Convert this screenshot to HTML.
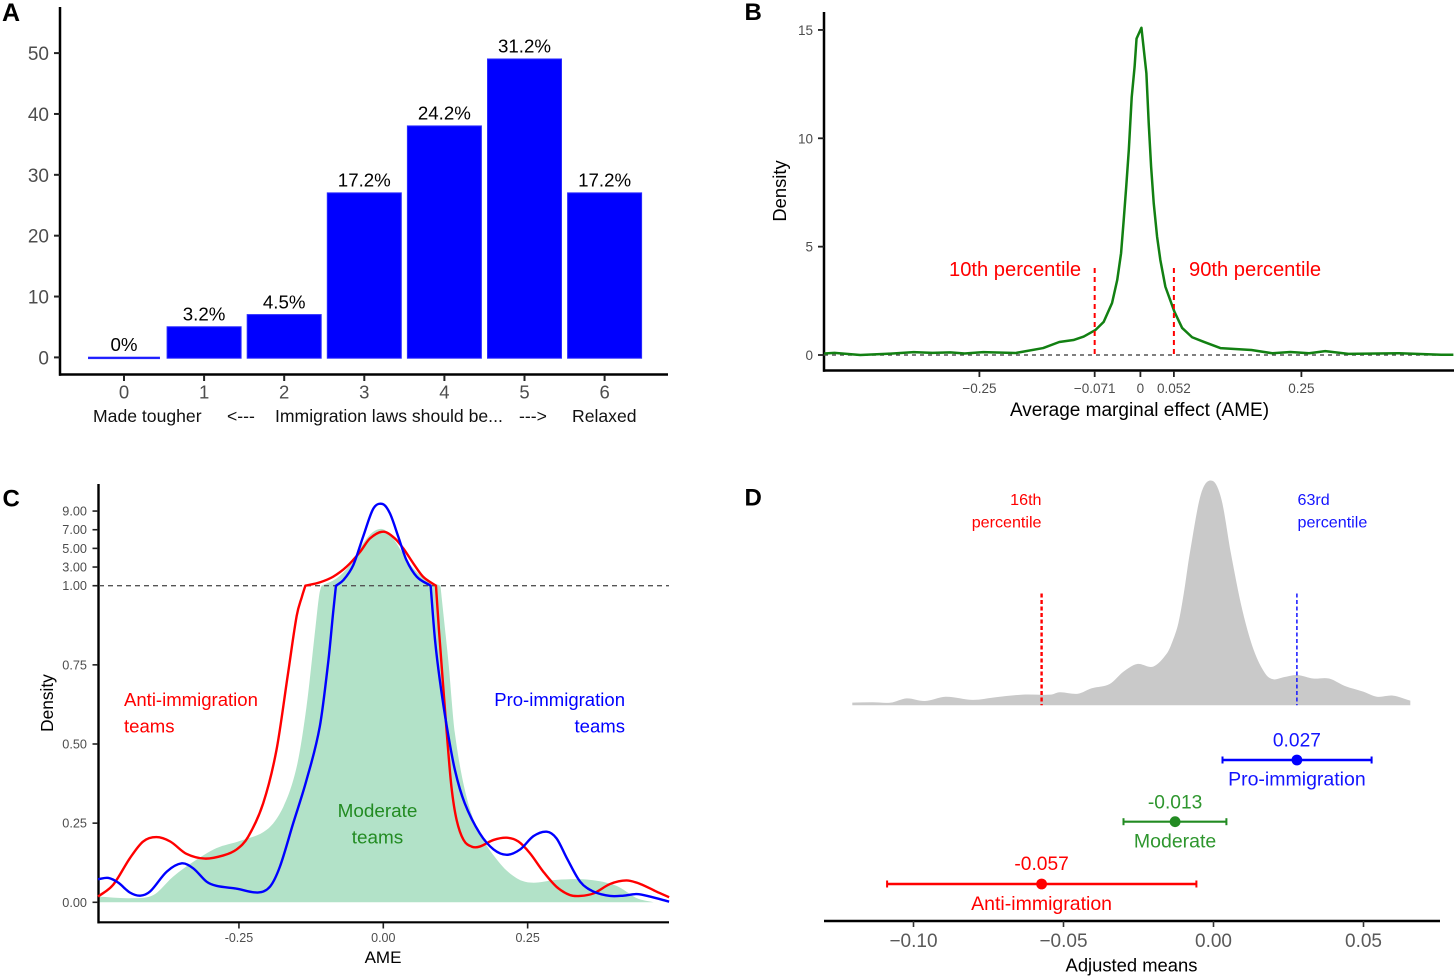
<!DOCTYPE html>
<html lang="en">
<head>
<meta charset="utf-8">
<title>Immigration attitudes and team effects, four-panel figure</title>
<style>
  html, body { margin: 0; padding: 0; background: #fff; }
  svg { display: block; font-family: "Liberation Sans", Arial, sans-serif; }
</style>
</head>
<body>
<svg id="figure" xmlns="http://www.w3.org/2000/svg" width="1456" height="978" viewBox="0 0 1456 978">
  <rect x="0" y="0" width="1456" height="978" fill="#fff"/>

  <g id="panelA">
    <text x="2" y="21" font-size="25" font-weight="bold" fill="#000">A</text>
    <line x1="60" y1="7" x2="60" y2="375.8" stroke="#000" stroke-width="2.5"/>
    <line x1="59" y1="374.5" x2="668" y2="374.5" stroke="#000" stroke-width="2.5"/>
    <g font-size="17.6" fill="#111">
      <text x="93" y="422">Made tougher</text>
      <text x="227" y="422">&lt;---</text>
      <text x="275" y="422">Immigration laws should be...</text>
      <text x="519" y="422">---&gt;</text>
      <text x="572" y="422">Relaxed</text>
    </g>
  </g>

  <g id="panelB">
    <text x="744.5" y="20" font-size="24" font-weight="bold" fill="#000">B</text>
    <line x1="824" y1="12" x2="824" y2="371.8" stroke="#000" stroke-width="2.5"/>
    <line x1="823" y1="370.5" x2="1454" y2="370.5" stroke="#000" stroke-width="2.5"/>
    <text x="1139.5" y="416" font-size="19" fill="#000" text-anchor="middle">Average marginal effect (AME)</text>
    <text transform="translate(786,191) rotate(-90)" font-size="18.4" fill="#000" text-anchor="middle">Density</text>
    <text x="949" y="276" font-size="20.15" fill="#ff0000">10th percentile</text>
    <text x="1189" y="276" font-size="20.15" fill="#ff0000">90th percentile</text>
  </g>

  <g id="panelC">
    <text x="2.5" y="506.5" font-size="24" font-weight="bold" fill="#000">C</text>
  </g>

  <g id="panelD">
    <text x="744.5" y="505.5" font-size="24" font-weight="bold" fill="#000">D</text>
    <line x1="824" y1="921" x2="1440" y2="921" stroke="#000" stroke-width="2.5"/>
    <text x="1131.5" y="971.5" font-size="18.4" fill="#000" text-anchor="middle">Adjusted means</text>
    <text x="1041.5" y="505" font-size="16.1" fill="#ff0000" text-anchor="end">16th</text>
    <text x="1041.5" y="527.5" font-size="16.1" fill="#ff0000" text-anchor="end">percentile</text>
    <text x="1297.5" y="505" font-size="16.1" fill="#1414ff">63rd</text>
    <text x="1297.5" y="527.5" font-size="16.1" fill="#1414ff">percentile</text>
  </g>
</svg>

<script>
// ---------- Panel A data ----------
const aCategories = [0, 1, 2, 3, 4, 5, 6];
const aCounts = [0, 5, 7, 27, 38, 49, 27];
const aPercentLabels = ['0%', '3.2%', '4.5%', '17.2%', '24.2%', '31.2%', '17.2%'];
const aYTicks = [0, 10, 20, 30, 40, 50];

// ---------- Panel B data ----------
const bAme = [-.491,-.475,-.435,-.396,-.352,-.323,-.295,-.273,-.244,-.194,-.151,-.126,-.104,-.088,-.070,-.057,-.044,-.036,-.030,-.026,-.022,-.018,-.0135,-.009,-.006,.0016,.0093,.0129,.0166,.0207,.0259,.031,.0388,.0528,.0648,.0803,.0983,.1242,.1724,.205,.233,.262,.287,.323,.402,.467,.486];
const bDensity = [.07,.1,0,.05,.13,.1,.12,.07,.13,.09,.32,.6,.69,.85,1.15,1.53,2.4,3.46,4.7,6.2,7.77,9.46,11.9,13.3,14.6,15.1,13,10.7,8.7,7,5.46,4.38,3.15,2,1.25,.82,.61,.32,.23,.08,.14,.08,.18,.05,.08,.01,.01];
const bXTicks = [-0.25, -0.071, 0, 0.052, 0.25];
const bXTickLabels = ['\u22120.25', '\u22120.071', '0', '0.052', '0.25'];
const bYTicks = [0, 5, 10, 15];
const bPercentiles = [-0.071, 0.052];

// ---------- Panel C data ----------
const cYTicks = [0, 0.25, 0.5, 0.75, 1, 3, 5, 7, 9];
const cXTicks = [-0.25, 0, 0.25];
const cModerateAme = [-.494,-.433,-.398,-.364,-.329,-.289,-.248,-.202,-.173,-.150,-.133,-.118,-.111,-.107,-.081,-.058,-.035,-.017,0,.017,.032,.052,.075,.099,.103,.113,.124,.144,.167,.202,.231,.257,.300,.358,.404,.439,.468];
const cModerateDensity = [.018,.013,.023,.081,.128,.171,.194,.229,.302,.428,.618,.86,.971,1,1.79,3.21,5.54,6.79,7.04,6.07,4.64,2.86,1.61,1,.93,.755,.534,.334,.218,.123,.076,.062,.071,.071,.052,.013,0];
const cAntiAme = [-.494,-.468,-.439,-.416,-.393,-.369,-.341,-.309,-.277,-.254,-.234,-.208,-.185,-.165,-.150,-.141,-.135,-.110,-.087,-.0635,-.040,-.023,0,.020,.0346,.052,.069,.0912,.0964,.103,.110,.118,.127,.139,.153,.167,.191,.214,.234,.254,.277,.300,.323,.341,.364,.393,.421,.445,.473,.495];
const cAntiDensity = [.018,.055,.139,.192,.206,.192,.153,.138,.148,.167,.207,.313,.481,.723,.905,.965,1,1.36,1.96,3.04,4.64,6.07,6.79,6.07,5,3.39,1.96,1,.86,.70,.533,.365,.26,.197,.176,.176,.197,.204,.192,.155,.097,.049,.023,.02,.028,.058,.069,.058,.034,.016];
const cProAme = [-.494,-.476,-.459,-.439,-.421,-.404,-.375,-.349,-.329,-.306,-.289,-.254,-.216,-.196,-.179,-.156,-.133,-.110,-.095,-.087,-.082,-.069,-.052,-.035,-.017,-.001,.0115,.026,.040,.058,.082,.0895,.098,.110,.124,.141,.167,.191,.214,.237,.260,.283,.300,.318,.341,.364,.393,.416,.439,.462,.495];
const cProDensity = [.073,.077,.062,.031,.021,.034,.097,.123,.107,.065,.052,.043,.031,.05,.113,.25,.386,.555,.765,.913,1,1.61,3.21,6.25,9.29,9.75,8.75,6.25,3.75,1.96,1,.83,.70,.555,.418,.313,.218,.167,.15,.167,.209,.223,.202,.139,.065,.034,.02,.021,.026,.018,.002];

// ---------- Panel D data ----------
const dAme = [-.1204,-.1137,-.1076,-.1023,-.0962,-.0893,-.0802,-.0726,-.0635,-.0543,-.0513,-.0452,-.0406,-.0346,-.03,-.0254,-.0201,-.0155,-.0135,-.0117,-.0099,-.0079,-.0041,-.0003,.0027,.0058,.0096,.0134,.0172,.0199,.0233,.0279,.0332,.0385,.0438,.0499,.0545,.0598,.0656];
const dDensity = [.14,.16,.14,.37,.23,.46,.29,.43,.57,.57,.7,.62,.91,1.14,1.8,2.21,2.07,2.78,3.49,4.4,5.99,8.13,11.34,12,10.98,8.13,5.1,2.96,1.71,1.39,1.5,1.62,1.43,1.43,1.03,.73,.46,.52,.25];
const dXTicks = [-0.10, -0.05, 0, 0.05];
const dXTickLabels = ['\u22120.10', '\u22120.05', '0.00', '0.05'];
const dGroups = ['Pro-immigration', 'Moderate', 'Anti-immigration'];
const dMeans = [0.0278, -0.0128, -0.0573];
const dLower = [0.003, -0.0300, -0.1088];
const dUpper = [0.0527, 0.0043, -0.0057];
const dMeanLabels = ['0.027', '-0.013', '-0.057'];
const dPercentiles = [-0.0573, 0.0278];

// ---------- Axis functions ----------
const xA = c => 124 + 80.1 * c;
const yA = v => 357.4 - 6.086 * v;
const xB = a => 1140.4 + 644 * a;
const yB = d => 355 - 21.67 * d;
const xC = a => 383.3 + 577.4 * a;
const yC = d => d <= 1 ? 902.3 - 316.6 * d : 585.7 - (d - 1) * 9.33;
const xD = a => 1213.5 + 3000 * a;
const yD = d => 705.3 - 18.7 * d;
const rowY = [760, 821.7, 884];
const groupColors = ['#0000ff', '#228b22', '#ff0000'];

// ---------- Helpers ----------
const NS = 'http://www.w3.org/2000/svg';
function mk(parent, tag, props) {
  const el = document.createElementNS(NS, tag);
  for (const k in props) el.setAttribute(k, props[k]);
  parent.appendChild(el);
  return el;
}
function label(parent, x, y, str, size, fill, anchor) {
  const el = mk(parent, 'text', { x: x, y: y, 'font-size': size, fill: fill, 'text-anchor': anchor || 'middle' });
  el.textContent = str;
  return el;
}
function polyline(xs, ys, fx, fy) {
  return xs.map((x, i) => (i ? 'L' : 'M') + fx(x).toFixed(2) + ' ' + fy(ys[i]).toFixed(2)).join('');
}
// Hermite curve through function-like data; kinks at given y-values keep one-sided slopes.
function curve(xs, ys, fx, fy, kinkValue) {
  const n = xs.length;
  const px = xs.map(fx), py = ys.map(fy);
  const seg = i => (py[i + 1] - py[i]) / (px[i + 1] - px[i]);
  const central = i => {
    if (i === 0) return seg(0);
    if (i === n - 1) return seg(n - 2);
    return (py[i + 1] - py[i - 1]) / (px[i + 1] - px[i - 1]);
  };
  let d = 'M' + px[0].toFixed(2) + ' ' + py[0].toFixed(2);
  for (let i = 0; i < n - 1; i++) {
    const h = px[i + 1] - px[i];
    const m0 = ys[i] === kinkValue ? seg(i) : central(i);
    const m1 = ys[i + 1] === kinkValue ? seg(i) : central(i + 1);
    d += 'C' + (px[i] + h / 3).toFixed(2) + ' ' + (py[i] + m0 * h / 3).toFixed(2) + ' ' +
         (px[i + 1] - h / 3).toFixed(2) + ' ' + (py[i + 1] - m1 * h / 3).toFixed(2) + ' ' +
         px[i + 1].toFixed(2) + ' ' + py[i + 1].toFixed(2);
  }
  return d;
}

// ---------- Panel A ----------
const gA = document.getElementById('panelA');
aYTicks.forEach(v => {
  const t = mk(gA, 'line', { x1: 54, x2: 60, y1: yA(v), y2: yA(v), stroke: '#222', 'stroke-width': 2 });
  
  
  const l = label(gA, 49, yA(v) + 7, String(v), 19, '#4d4d4d', 'end');
  
  
});
aCategories.forEach((c, i) => {
  const top = yA(aCounts[i]);
  const w = aCounts[i] === 0 ? 71 : 74;
  const bar = mk(gA, 'rect', { x: xA(c) - w / 2, y: top - 0.2, width: w, height: Math.max(yA(0) + 1 - top, 1.4), fill: '#0000ff', stroke: '#2a2aff', 'stroke-width': 1 });
  
  
  const v = label(gA, xA(c), top - 6.5, aPercentLabels[i], 18.7, '#000');
  
  
  const t = mk(gA, 'line', { x1: xA(c), x2: xA(c), y1: 375, y2: 381, stroke: '#222', 'stroke-width': 2 });
  
  
  const l = label(gA, xA(c), 398.5, String(c), 18.5, '#4d4d4d');
  
  
});

// ---------- Panel B ----------
const gB = document.getElementById('panelB');
bYTicks.forEach(v => {
  const t = mk(gB, 'line', { x1: 818, x2: 824, y1: yB(v), y2: yB(v), stroke: '#222', 'stroke-width': 1.8 });
  
  
  const l = label(gB, 813, yB(v) + 5, String(v), 13.5, '#4d4d4d', 'end');
  
  
});
bXTicks.forEach((a, i) => {
  const t = mk(gB, 'line', { x1: xB(a), x2: xB(a), y1: 371, y2: 377, stroke: '#222', 'stroke-width': 1.8 });
  
  
  const l = label(gB, xB(a), 393, bXTickLabels[i], 13.5, '#4d4d4d');
  
  
});
const bZero = mk(gB, 'line', { x1: 824, x2: 1453, y1: yB(0), y2: yB(0), stroke: '#555', 'stroke-width': 1.5, 'stroke-dasharray': '4 4' });


const bCurve = mk(gB, 'path', { d: polyline(bAme, bDensity, xB, yB), fill: 'none', stroke: '#128012', 'stroke-width': 2.5, 'stroke-linejoin': 'round' });


bPercentiles.forEach((a, i) => {
  const p = mk(gB, 'line', { x1: xB(a), x2: xB(a), y1: 268, y2: yB(0), stroke: '#ff0000', 'stroke-width': 2, 'stroke-dasharray': '5 4' });
  
  
});

// ---------- Panel C ----------
const gC = document.getElementById('panelC');
const cFill = mk(gC, 'path', { d: curve(cModerateAme, cModerateDensity, xC, yC, 1) + 'L' + xC(cModerateAme[cModerateAme.length - 1]) + ' ' + yC(0) + 'L' + xC(cModerateAme[0]) + ' ' + yC(0) + 'Z', fill: '#b2e2c8', stroke: 'none' });


const cYAxis = mk(gC, 'line', { x1: 98.5, x2: 98.5, y1: 484, y2: 923.4, stroke: '#000', 'stroke-width': 2.4 });


const cXAxis = mk(gC, 'line', { x1: 97.5, x2: 669, y1: 922.3, y2: 922.3, stroke: '#000', 'stroke-width': 2.2 });


cYTicks.forEach(v => {
  const t = mk(gC, 'line', { x1: 92.5, x2: 98, y1: yC(v), y2: yC(v), stroke: '#222', 'stroke-width': 1.6 });
  
  
  const l = label(gC, 87, yC(v) + 4.5, v.toFixed(2), 12.7, '#4d4d4d', 'end');
  
  
});
cXTicks.forEach(a => {
  const t = mk(gC, 'line', { x1: xC(a), x2: xC(a), y1: 923, y2: 928.5, stroke: '#222', 'stroke-width': 1.6 });
  
  
  const l = label(gC, xC(a), 942, a.toFixed(2), 12.5, '#4d4d4d');
  
  
});
const cDash = mk(gC, 'line', { x1: 99, x2: 669, y1: yC(1), y2: yC(1), stroke: '#555', 'stroke-width': 1.3, 'stroke-dasharray': '5 4' });


const cRed = mk(gC, 'path', { d: curve(cAntiAme, cAntiDensity, xC, yC, 1), fill: 'none', stroke: '#ff0000', 'stroke-width': 2.4, 'stroke-linejoin': 'round' });


const cBlue = mk(gC, 'path', { d: curve(cProAme, cProDensity, xC, yC, 1), fill: 'none', stroke: '#0000ff', 'stroke-width': 2.4, 'stroke-linejoin': 'round' });


const cXTitle = label(gC, 383, 963, 'AME', 17, '#000');


const cYTitle = label(gC, 0, 0, 'Density', 17.3, '#000');
cYTitle.setAttribute('transform', 'translate(53,703) rotate(-90)');


const cT1 = label(gC, 124, 706, 'Anti-immigration', 18.55, '#ff0000', 'start');


const cT2 = label(gC, 124, 732.5, 'teams', 18.55, '#ff0000', 'start');


const cT3 = label(gC, 625, 706, 'Pro-immigration', 18.55, '#0000ff', 'end');


const cT4 = label(gC, 625, 732.5, 'teams', 18.55, '#0000ff', 'end');


const cT5 = label(gC, 377.5, 817, 'Moderate', 18.9, '#228b22');


const cT6 = label(gC, 377.5, 843.5, 'teams', 18.9, '#228b22');



// ---------- Panel D ----------
const gD = document.getElementById('panelD');
const dLast = dAme.length - 1;
const dArea = mk(gD, 'path', { d: 'M' + xD(dAme[0]) + ' ' + yD(0) + 'L' + xD(dAme[0]) + ' ' + yD(dDensity[0]) + curve(dAme, dDensity, xD, yD).replace(/^M[^C]*/, '') + 'L' + xD(dAme[dLast]) + ' ' + yD(0) + 'Z', fill: '#c9c9c9', stroke: 'none' });


dPercentiles.forEach((a, i) => {
  const p = mk(gD, 'line', { x1: xD(a), x2: xD(a), y1: 593.5, y2: yD(0), stroke: i === 0 ? '#ff0000' : '#1414ff', 'stroke-width': i === 0 ? 2.4 : 1.5, 'stroke-dasharray': '4 2.5' });
  
  
});
dXTicks.forEach((a, i) => {
  const t = mk(gD, 'line', { x1: xD(a), x2: xD(a), y1: 921, y2: 927, stroke: '#333', 'stroke-width': 1.6 });
  
  
  const l = label(gD, xD(a), 947, dXTickLabels[i], 19, '#595959');
  
  
});
const nameOffsets = [25.7, 25.6, 26];
const meanOffsets = [-13.3, -13.4, -14];
dGroups.forEach((g, i) => {
  const y = rowY[i];
  const col = groupColors[i];
  const w = i === 1 ? 2.2 : 2.5;
  const slug = g.toLowerCase();
  const line = mk(gD, 'line', { x1: xD(dLower[i]), x2: xD(dUpper[i]), y1: y, y2: y, stroke: col, 'stroke-width': w });
  
  
  const c1 = mk(gD, 'line', { x1: xD(dLower[i]), x2: xD(dLower[i]), y1: y - 3.5, y2: y + 3.5, stroke: col, 'stroke-width': 2 });
  
  
  const c2 = mk(gD, 'line', { x1: xD(dUpper[i]), x2: xD(dUpper[i]), y1: y - 3.5, y2: y + 3.5, stroke: col, 'stroke-width': 2 });
  
  
  const dot = mk(gD, 'circle', { cx: xD(dMeans[i]), cy: y, r: 5.4, fill: col });
  
  
  const m = label(gD, xD(dMeans[i]), y + meanOffsets[i], dMeanLabels[i], 19.2, col === '#0000ff' ? '#1414ff' : (i === 1 ? '#2e962e' : col));
  
  
  const nm = label(gD, xD(dMeans[i]), y + nameOffsets[i], g, 19.5, col === '#0000ff' ? '#1414ff' : (i === 1 ? '#2e962e' : col));
  
  
});
</script>
</body>
</html>
